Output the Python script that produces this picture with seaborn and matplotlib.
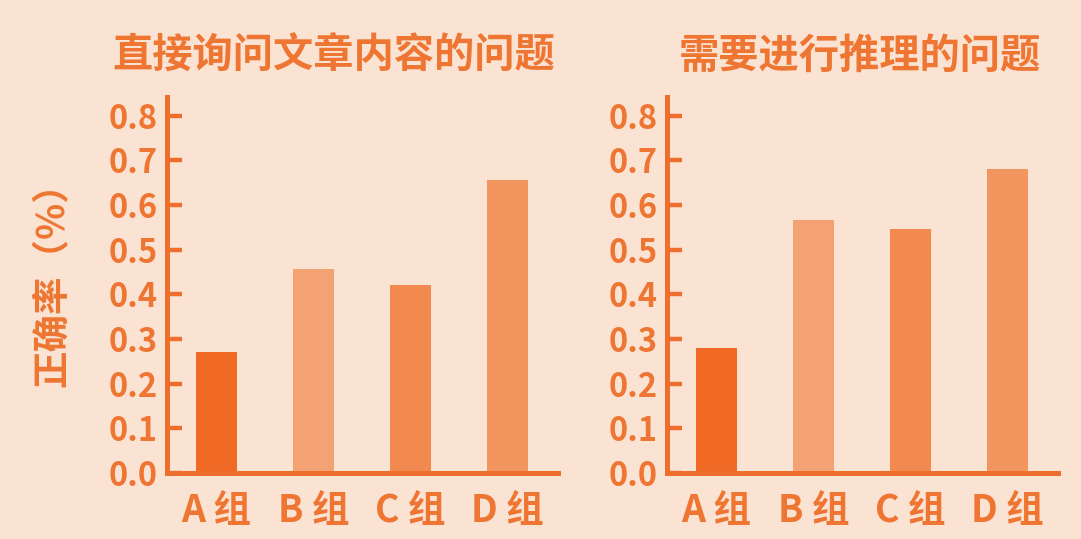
import matplotlib
matplotlib.use("Agg")
import matplotlib.pyplot as plt
import seaborn as sns
import pandas as pd

groups = ["A 组", "B 组", "C 组", "D 组"]
direct_vals = [0.27, 0.457, 0.421, 0.657]
infer_vals = [0.28, 0.566, 0.547, 0.681]
titles = ["直接询问文章内容的问题", "需要进行推理的问题"]
ytick_vals = [0.0, 0.1, 0.2, 0.3, 0.4, 0.5, 0.6, 0.7, 0.8]
ylabel = "正确率（%）"

bar_colors = ["#F06A25", "#F4A274", "#F28A50", "#F3955F"]
bg = "#FBE3D3"
txt = "#EE7632"
axc = "#EE6E2C"

sns.set_theme(style="white")
plt.rcParams['font.family'] = ['Noto Sans CJK SC', 'DejaVu Sans']

fig = plt.figure(figsize=(10.81, 5.39), dpi=100)
fig.patch.set_facecolor(bg)

ax_h = (473 - 97) / 539
ax_b = 66 / 539
ax_w = 391 / 1081
lefts = [167 / 1081, 667 / 1081]
title_x = [334 / 1081, 860 / 1081]

for i, vals in enumerate([direct_vals, infer_vals]):
    ax = fig.add_axes([lefts[i], ax_b, ax_w, ax_h])
    ax.set_facecolor(bg)
    df = pd.DataFrame({"group": groups, "value": vals})
    sns.barplot(data=df, x="group", y="value", hue="group", palette=bar_colors,
                width=0.43, legend=False, ax=ax, saturation=1, linewidth=0,
                edgecolor="none")
    ax.set_xlim(-0.51, 3.52)
    ax.set_ylim(0, 0.842)
    ax.set_yticks(ytick_vals)
    ax.set_yticklabels([f"{v:.1f}" for v in ytick_vals])
    for s in ["top", "right"]:
        ax.spines[s].set_visible(False)
    for s in ["left", "bottom"]:
        ax.spines[s].set_color(axc)
        ax.spines[s].set_linewidth(3.6)
    ax.tick_params(axis="y", left=True, direction="in", length=11, width=3.2, color=axc,
                   labelsize=23.5, labelcolor=txt, pad=7)
    ax.tick_params(axis="x", bottom=False, length=0, labelsize=27, labelcolor=txt, pad=13)
    for lab in ax.get_yticklabels() + ax.get_xticklabels():
        lab.set_fontweight("bold")
    ax.set_xlabel("")
    ax.set_ylabel("")
    fig.text(title_x[i], 1 - 56 / 539, titles[i], ha="center", va="center",
             fontsize=29, fontweight="bold", color=txt)

fig.text(52 / 1081, 1 - 275 / 539, ylabel, rotation=90, ha="center", va="center",
         fontsize=27, fontweight="bold", color=txt)

fig.savefig("out.png", dpi=100, facecolor=bg)
